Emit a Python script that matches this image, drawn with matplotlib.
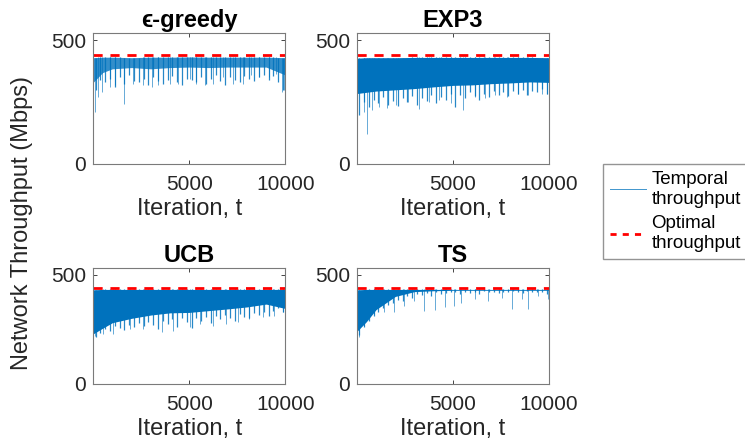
import matplotlib
matplotlib.use("Agg")
import matplotlib.pyplot as plt
from matplotlib.lines import Line2D
import numpy as np

plt.rcParams['font.family'] = ['Liberation Sans', 'DejaVu Sans']

# envelope of the dense throughput band (Mbps)
t_grid = [0, 500, 1000, 2000, 3000, 4000, 5000, 6000, 7000, 8000, 9000, 10000]
# ragged lower edge, read every 250 iterations
t_edge = list(range(125, 10000, 250))

eg_hi = [430, 432, 432, 430, 432, 432, 433, 432, 432, 432, 432, 430]
eg_lo = [330, 370, 385, 390, 385, 390, 392, 390, 392, 392, 392, 360]
eg_edge = [300, 340, 330, 345, 310, 350, 325, 360, 335, 330,
           345, 320, 350, 335, 325, 340, 355, 330, 320, 345,
           340, 330, 350, 325, 345, 360, 335, 320, 350, 340,
           330, 355, 345, 335, 350, 360, 340, 355, 330, 300]
eg_dip_t = [100, 250, 450, 880, 1140, 1610, 2090, 2610, 3040, 3380, 3990, 4420, 5030,
            5370, 5800, 6240, 6750, 7270, 7790, 8220, 8650, 9170, 9520, 9830, 9920]
eg_dip_v = [211, 270, 292, 312, 318, 242, 325, 318, 312, 318, 325, 325, 345,
            325, 318, 325, 352, 325, 325, 359, 352, 352, 365, 291, 298]

ex_hi = [428, 430, 430, 430, 431, 431, 431, 431, 431, 431, 431, 430]
ex_lo = [285, 290, 295, 300, 305, 312, 318, 320, 325, 328, 332, 330]
ex_edge = [200, 250, 230, 260, 245, 270, 240, 255, 235, 265,
           250, 275, 240, 265, 255, 280, 245, 270, 260, 285,
           230, 280, 265, 290, 275, 260, 285, 270, 295, 280,
           290, 275, 295, 285, 300, 280, 295, 290, 305, 285]
ex_dip_t = [30, 367, 506, 803, 1153, 1590, 2026, 2638, 3249, 3773, 4297, 4908,
            5520, 6131, 6655, 7179, 7790, 8401, 8925, 9624, 9886]
ex_dip_v = [184, 211, 123, 218, 231, 225, 238, 251, 224, 251, 258, 245,
            220, 271, 265, 278, 271, 285, 278, 285, 285]

ucb_hi = [430, 432, 432, 432, 432, 432, 432, 432, 432, 432, 432, 432]
ucb_lo = [229, 255, 280, 300, 315, 325, 327, 335, 343, 352, 365, 345]
ucb_edge = [215, 235, 250, 240, 265, 255, 245, 270, 260, 280,
            265, 285, 270, 250, 290, 275, 295, 260, 300, 285,
            255, 300, 290, 305, 280, 310, 295, 315, 300, 290,
            320, 305, 300, 325, 315, 330, 310, 335, 345, 330]
ucb_dip_t = [104, 535, 1050, 1920, 2610, 3560, 4160, 5020, 5540, 6230, 6920, 7530,
             8130, 8820, 9430, 9860]
ucb_dip_v = [221, 229, 229, 252, 252, 236, 244, 259, 274, 267, 274, 282,
             297, 304, 312, 327]

ts_hi = [430, 432, 432, 432, 432, 432, 432, 432, 432, 432, 432, 432]
ts_lo = [240, 285, 340, 400, 422, 426, 428, 428, 428, 428, 428, 428]
ts_edge = [225, 260, 290, 310, 330, 345, 360, 370, 385, 380,
           400, 395, 410, 405, 415, 400, 420, 410, 415, 420,
           418, 410, 422, 415, 420, 412, 424, 418, 420, 415,
           422, 418, 424, 420, 415, 425, 420, 422, 418, 410]
ts_dip_t = [100, 367, 890, 1420, 1940, 2460, 2990, 3510, 4040, 4560, 5080, 5430,
            6130, 6830, 7530, 8050, 8580, 8930, 9450, 9970]
ts_dip_v = [214, 267, 319, 327, 327, 357, 380, 334, 338, 350, 357, 372,
            387, 380, 395, 342, 387, 342, 402, 387]

optimal = 440
titles = ['\u03f5-greedy', 'EXP3', 'UCB', 'TS']
panels = [(eg_hi, eg_lo, eg_edge, eg_dip_t, eg_dip_v),
          (ex_hi, ex_lo, ex_edge, ex_dip_t, ex_dip_v),
          (ucb_hi, ucb_lo, ucb_edge, ucb_dip_t, ucb_dip_v),
          (ts_hi, ts_lo, ts_edge, ts_dip_t, ts_dip_v)]
core_alpha = [0.8, 1, 1, 1]

blue = '#0072BD'
grey = '#262626'

fig = plt.figure(figsize=(7.45, 4.45), dpi=100)
boxes = [[0.125, 0.6315, 0.258, 0.2944],
         [0.479, 0.6315, 0.258, 0.2944],
         [0.125, 0.1371, 0.258, 0.2607],
         [0.479, 0.1371, 0.258, 0.2607]]

for box, title, a, (hi, lo, edge, dt, dv) in zip(boxes, titles, core_alpha, panels):
    ax = fig.add_axes(box)
    ax.fill_between(t_grid, lo, hi, color=blue, lw=0, alpha=a)
    ax.vlines(t_edge, edge, np.interp(t_edge, t_grid, hi), color=blue, lw=0.9, alpha=0.85)
    ax.vlines(dt, dv, np.interp(dt, t_grid, hi), color=blue, lw=0.7, alpha=0.6)
    ax.axhline(optimal, color='r', ls='--', lw=2, dashes=(3.3, 2.8))
    ax.set_xlim(0, 10000)
    ax.set_ylim(0, 530)
    ax.set_xticks([5000, 10000])
    ax.set_yticks([0, 500])
    ax.tick_params(direction='in', top=True, right=True, length=3, width=0.6,
                   labelsize=15, colors=grey, pad=5)
    ax.tick_params(axis='x', pad=8)
    for s in ax.spines.values():
        s.set_color('#7a7a7a')
        s.set_linewidth(0.8)
    ax.set_title(title, fontsize=17, fontweight='bold', pad=4)
    ax.set_xlabel('Iteration, t', fontsize=17, color=grey, labelpad=3)

fig.text(0.03, 0.5, 'Network Throughput (Mbps)', rotation=90, va='center',
         ha='center', fontsize=17, color=grey)

handles = [Line2D([], [], color=blue, lw=0.7, alpha=0.75),
           Line2D([], [], color='r', ls='--', lw=2, dashes=(2.2, 2.2))]
fig.legend(handles, ['Temporal\nthroughput', 'Optimal\nthroughput'],
           loc='upper left', bbox_to_anchor=(0.809, 0.632), fontsize=13.5,
           frameon=True, fancybox=False, edgecolor='#7a7a7a', borderaxespad=0,
           handlelength=1.9, handletextpad=0.3, borderpad=0.4, labelspacing=0.4)

fig.savefig('out.png', dpi=100)
